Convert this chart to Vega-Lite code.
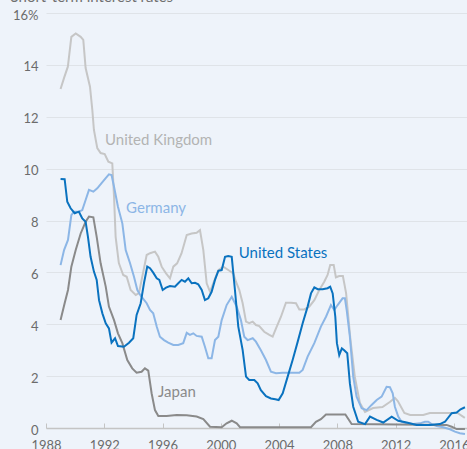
{
  "$schema": "https://vega.github.io/schema/vega-lite/v6.json",
  "width": 421,
  "height": 415,
  "autosize": "none",
  "padding": {"left": 46, "top": 13, "right": 0, "bottom": 21},
  "background": "#eef3fa",
  "title": {"text": "Short-term interest rates", "anchor": "start", "frame": "bounds", "font": "Lato", "fontSize": 15, "fontWeight": "normal", "color": "#707070", "offset": -8, "dx": -2, "baseline": "alphabetic"},
  "config": {"view": {"stroke": null}, "font": "Lato"},
  "datasets": {
    "series": [
      {"country":"UK","year":1989.0,"value":13.07},{"country":"UK","year":1989.24,"value":13.5},{"country":"UK","year":1989.5,"value":13.93},{"country":"UK","year":1989.74,"value":15.08},{"country":"UK","year":1990.04,"value":15.21},{"country":"UK","year":1990.38,"value":15.08},{"country":"UK","year":1990.56,"value":14.96},{"country":"UK","year":1990.72,"value":13.88},{"country":"UK","year":1991.02,"value":13.16},{"country":"UK","year":1991.18,"value":12.26},{"country":"UK","year":1991.29,"value":11.49},{"country":"UK","year":1991.52,"value":10.79},{"country":"UK","year":1991.75,"value":10.6},{"country":"UK","year":1992.03,"value":10.56},{"country":"UK","year":1992.28,"value":10.27},{"country":"UK","year":1992.55,"value":10.2},{"country":"UK","year":1992.67,"value":8.92},{"country":"UK","year":1992.78,"value":7.37},{"country":"UK","year":1993.0,"value":6.36},{"country":"UK","year":1993.3,"value":5.9},{"country":"UK","year":1993.54,"value":5.83},{"country":"UK","year":1993.81,"value":5.32},{"country":"UK","year":1994.16,"value":5.13},{"country":"UK","year":1994.38,"value":5.2},{"country":"UK","year":1994.73,"value":6.17},{"country":"UK","year":1994.91,"value":6.67},{"country":"UK","year":1995.14,"value":6.74},{"country":"UK","year":1995.48,"value":6.8},{"country":"UK","year":1995.71,"value":6.6},{"country":"UK","year":1995.94,"value":6.22},{"country":"UK","year":1996.24,"value":5.96},{"country":"UK","year":1996.51,"value":5.77},{"country":"UK","year":1996.74,"value":6.22},{"country":"UK","year":1997.0,"value":6.35},{"country":"UK","year":1997.3,"value":6.73},{"country":"UK","year":1997.66,"value":7.44},{"country":"UK","year":1998.0,"value":7.5},{"country":"UK","year":1998.34,"value":7.53},{"country":"UK","year":1998.57,"value":7.63},{"country":"UK","year":1998.8,"value":6.86},{"country":"UK","year":1999.03,"value":5.58},{"country":"UK","year":1999.26,"value":5.25},{"country":"UK","year":1999.48,"value":5.58},{"country":"UK","year":1999.83,"value":6.09},{"country":"UK","year":2000.17,"value":6.22},{"country":"UK","year":2000.51,"value":6.09},{"country":"UK","year":2000.86,"value":5.96},{"country":"UK","year":2001.04,"value":5.64},{"country":"UK","year":2001.27,"value":5.32},{"country":"UK","year":2001.5,"value":4.81},{"country":"UK","year":2001.73,"value":4.1},{"country":"UK","year":2001.95,"value":4.04},{"country":"UK","year":2002.19,"value":4.1},{"country":"UK","year":2002.41,"value":3.97},{"country":"UK","year":2002.64,"value":3.93},{"country":"UK","year":2002.98,"value":3.71},{"country":"UK","year":2003.33,"value":3.59},{"country":"UK","year":2003.56,"value":3.52},{"country":"UK","year":2003.79,"value":3.84},{"country":"UK","year":2004.13,"value":4.29},{"country":"UK","year":2004.47,"value":4.83},{"country":"UK","year":2004.82,"value":4.83},{"country":"UK","year":2005.16,"value":4.81},{"country":"UK","year":2005.39,"value":4.57},{"country":"UK","year":2005.73,"value":4.57},{"country":"UK","year":2006.07,"value":4.68},{"country":"UK","year":2006.42,"value":4.93},{"country":"UK","year":2006.76,"value":5.32},{"country":"UK","year":2007.1,"value":5.64},{"country":"UK","year":2007.33,"value":5.9},{"country":"UK","year":2007.51,"value":6.28},{"country":"UK","year":2007.75,"value":6.28},{"country":"UK","year":2007.9,"value":5.81},{"country":"UK","year":2008.13,"value":5.86},{"country":"UK","year":2008.38,"value":5.86},{"country":"UK","year":2008.6,"value":5.2},{"country":"UK","year":2008.9,"value":3.4},{"country":"UK","year":2009.2,"value":1.97},{"country":"UK","year":2009.55,"value":0.96},{"country":"UK","year":2009.9,"value":0.62},{"country":"UK","year":2010.45,"value":0.77},{"country":"UK","year":2011.1,"value":0.81},{"country":"UK","year":2011.6,"value":1.0},{"country":"UK","year":2011.95,"value":1.16},{"country":"UK","year":2012.15,"value":1.04},{"country":"UK","year":2012.6,"value":0.58},{"country":"UK","year":2013.0,"value":0.5},{"country":"UK","year":2013.9,"value":0.5},{"country":"UK","year":2014.35,"value":0.58},{"country":"UK","year":2015.25,"value":0.58},{"country":"UK","year":2015.9,"value":0.58},{"country":"UK","year":2016.25,"value":0.58},{"country":"UK","year":2016.75,"value":0.39},
      {"country":"DE","year":1989.0,"value":6.28},{"country":"DE","year":1989.24,"value":6.86},{"country":"DE","year":1989.51,"value":7.25},{"country":"DE","year":1989.74,"value":8.21},{"country":"DE","year":1989.92,"value":8.34},{"country":"DE","year":1990.26,"value":8.34},{"country":"DE","year":1990.49,"value":8.4},{"country":"DE","year":1990.72,"value":8.79},{"country":"DE","year":1990.95,"value":9.18},{"country":"DE","year":1991.25,"value":9.11},{"country":"DE","year":1991.52,"value":9.24},{"country":"DE","year":1991.8,"value":9.43},{"country":"DE","year":1992.1,"value":9.63},{"country":"DE","year":1992.32,"value":9.78},{"country":"DE","year":1992.5,"value":9.75},{"country":"DE","year":1992.67,"value":9.3},{"country":"DE","year":1992.94,"value":8.53},{"country":"DE","year":1993.24,"value":7.89},{"country":"DE","year":1993.47,"value":6.86},{"country":"DE","year":1993.77,"value":6.35},{"country":"DE","year":1994.04,"value":5.83},{"country":"DE","year":1994.27,"value":5.32},{"country":"DE","year":1994.5,"value":5.1},{"country":"DE","year":1994.91,"value":4.81},{"country":"DE","year":1995.14,"value":4.55},{"country":"DE","year":1995.36,"value":4.42},{"country":"DE","year":1995.6,"value":3.91},{"country":"DE","year":1995.82,"value":3.52},{"country":"DE","year":1996.1,"value":3.39},{"country":"DE","year":1996.39,"value":3.29},{"country":"DE","year":1996.74,"value":3.2},{"country":"DE","year":1997.08,"value":3.2},{"country":"DE","year":1997.42,"value":3.27},{"country":"DE","year":1997.66,"value":3.67},{"country":"DE","year":1997.88,"value":3.59},{"country":"DE","year":1998.11,"value":3.65},{"country":"DE","year":1998.34,"value":3.55},{"country":"DE","year":1998.69,"value":3.52},{"country":"DE","year":1998.91,"value":3.13},{"country":"DE","year":1999.14,"value":2.69},{"country":"DE","year":1999.37,"value":2.69},{"country":"DE","year":1999.6,"value":3.39},{"country":"DE","year":1999.83,"value":3.52},{"country":"DE","year":2000.06,"value":4.16},{"country":"DE","year":2000.4,"value":4.74},{"country":"DE","year":2000.75,"value":5.06},{"country":"DE","year":2001.09,"value":4.68},{"country":"DE","year":2001.38,"value":4.16},{"country":"DE","year":2001.61,"value":3.52},{"country":"DE","year":2001.84,"value":3.39},{"country":"DE","year":2002.19,"value":3.46},{"country":"DE","year":2002.41,"value":3.33},{"country":"DE","year":2002.75,"value":3.0},{"country":"DE","year":2003.1,"value":2.62},{"country":"DE","year":2003.44,"value":2.17},{"country":"DE","year":2003.79,"value":2.11},{"country":"DE","year":2004.25,"value":2.13},{"country":"DE","year":2004.7,"value":2.13},{"country":"DE","year":2005.39,"value":2.13},{"country":"DE","year":2005.62,"value":2.24},{"country":"DE","year":2005.96,"value":2.75},{"country":"DE","year":2006.42,"value":3.27},{"country":"DE","year":2006.87,"value":3.91},{"country":"DE","year":2007.22,"value":4.29},{"country":"DE","year":2007.56,"value":4.74},{"country":"DE","year":2007.79,"value":4.55},{"country":"DE","year":2008.02,"value":4.74},{"country":"DE","year":2008.36,"value":5.0},{"country":"DE","year":2008.52,"value":5.0},{"country":"DE","year":2008.64,"value":4.55},{"country":"DE","year":2008.86,"value":3.52},{"country":"DE","year":2009.09,"value":1.98},{"country":"DE","year":2009.32,"value":1.21},{"country":"DE","year":2009.67,"value":0.76},{"country":"DE","year":2010.01,"value":0.69},{"country":"DE","year":2010.35,"value":0.89},{"country":"DE","year":2010.7,"value":1.08},{"country":"DE","year":2011.04,"value":1.21},{"country":"DE","year":2011.38,"value":1.59},{"country":"DE","year":2011.61,"value":1.57},{"country":"DE","year":2011.8,"value":1.34},{"country":"DE","year":2011.95,"value":0.82},{"country":"DE","year":2012.18,"value":0.44},{"country":"DE","year":2012.41,"value":0.24},{"country":"DE","year":2012.76,"value":0.18},{"country":"DE","year":2013.21,"value":0.15},{"country":"DE","year":2013.67,"value":0.18},{"country":"DE","year":2014.01,"value":0.24},{"country":"DE","year":2014.24,"value":0.24},{"country":"DE","year":2014.47,"value":0.15},{"country":"DE","year":2014.82,"value":0.08},{"country":"DE","year":2015.27,"value":0.03},{"country":"DE","year":2015.73,"value":-0.05},{"country":"DE","year":2016.07,"value":-0.14},{"country":"DE","year":2016.41,"value":-0.2},{"country":"DE","year":2016.76,"value":-0.23},
      {"country":"JP","year":1989.0,"value":4.16},{"country":"JP","year":1989.28,"value":4.81},{"country":"JP","year":1989.51,"value":5.32},{"country":"JP","year":1989.74,"value":6.22},{"country":"JP","year":1990.04,"value":6.86},{"country":"JP","year":1990.38,"value":7.5},{"country":"JP","year":1990.72,"value":7.95},{"country":"JP","year":1990.95,"value":8.15},{"country":"JP","year":1991.25,"value":8.12},{"country":"JP","year":1991.48,"value":7.37},{"country":"JP","year":1991.75,"value":6.35},{"country":"JP","year":1992.1,"value":5.45},{"country":"JP","year":1992.32,"value":4.68},{"country":"JP","year":1992.67,"value":4.16},{"country":"JP","year":1992.94,"value":3.65},{"country":"JP","year":1993.24,"value":3.27},{"country":"JP","year":1993.58,"value":2.62},{"country":"JP","year":1993.92,"value":2.3},{"country":"JP","year":1994.22,"value":2.13},{"country":"JP","year":1994.56,"value":2.17},{"country":"JP","year":1994.79,"value":2.3},{"country":"JP","year":1995.02,"value":2.21},{"country":"JP","year":1995.25,"value":1.34},{"country":"JP","year":1995.48,"value":0.69},{"country":"JP","year":1995.71,"value":0.46},{"country":"JP","year":1996.28,"value":0.46},{"country":"JP","year":1996.97,"value":0.5},{"country":"JP","year":1997.66,"value":0.49},{"country":"JP","year":1998.34,"value":0.44},{"country":"JP","year":1998.8,"value":0.34},{"country":"JP","year":1999.26,"value":0.05},{"country":"JP","year":2000.06,"value":0.03},{"country":"JP","year":2000.4,"value":0.18},{"country":"JP","year":2000.75,"value":0.28},{"country":"JP","year":2001.09,"value":0.18},{"country":"JP","year":2001.32,"value":0.03},{"country":"JP","year":2006.19,"value":0.03},{"country":"JP","year":2006.53,"value":0.24},{"country":"JP","year":2006.87,"value":0.34},{"country":"JP","year":2007.22,"value":0.52},{"country":"JP","year":2008.55,"value":0.52},{"country":"JP","year":2008.98,"value":0.15},{"country":"JP","year":2015.5,"value":0.12},{"country":"JP","year":2015.85,"value":0.05},{"country":"JP","year":2016.19,"value":-0.04},{"country":"JP","year":2016.76,"value":-0.04},
      {"country":"US","year":1989.0,"value":9.6},{"country":"US","year":1989.28,"value":9.59},{"country":"US","year":1989.46,"value":8.72},{"country":"US","year":1989.69,"value":8.47},{"country":"US","year":1989.97,"value":8.28},{"country":"US","year":1990.26,"value":8.34},{"country":"US","year":1990.49,"value":8.08},{"country":"US","year":1990.72,"value":7.95},{"country":"US","year":1990.88,"value":7.37},{"country":"US","year":1991.06,"value":6.6},{"country":"US","year":1991.29,"value":6.03},{"country":"US","year":1991.48,"value":5.71},{"country":"US","year":1991.64,"value":4.93},{"country":"US","year":1991.87,"value":4.42},{"country":"US","year":1992.1,"value":4.04},{"country":"US","year":1992.32,"value":3.84},{"country":"US","year":1992.5,"value":3.29},{"country":"US","year":1992.74,"value":3.46},{"country":"US","year":1992.94,"value":3.16},{"country":"US","year":1993.35,"value":3.13},{"country":"US","year":1993.7,"value":3.29},{"country":"US","year":1993.99,"value":3.46},{"country":"US","year":1994.22,"value":4.36},{"country":"US","year":1994.5,"value":4.81},{"country":"US","year":1994.73,"value":5.6},{"country":"US","year":1994.95,"value":6.22},{"country":"US","year":1995.14,"value":6.16},{"country":"US","year":1995.36,"value":5.99},{"country":"US","year":1995.6,"value":5.77},{"country":"US","year":1995.78,"value":5.71},{"country":"US","year":1996.01,"value":5.32},{"country":"US","year":1996.24,"value":5.41},{"country":"US","year":1996.51,"value":5.47},{"country":"US","year":1996.85,"value":5.45},{"country":"US","year":1997.08,"value":5.58},{"country":"US","year":1997.31,"value":5.71},{"country":"US","year":1997.54,"value":5.64},{"country":"US","year":1997.77,"value":5.77},{"country":"US","year":1998.0,"value":5.58},{"country":"US","year":1998.23,"value":5.6},{"country":"US","year":1998.45,"value":5.54},{"country":"US","year":1998.69,"value":5.32},{"country":"US","year":1998.91,"value":4.93},{"country":"US","year":1999.14,"value":5.0},{"country":"US","year":1999.37,"value":5.25},{"country":"US","year":1999.6,"value":5.71},{"country":"US","year":1999.83,"value":6.06},{"country":"US","year":2000.06,"value":6.09},{"country":"US","year":2000.29,"value":6.6},{"country":"US","year":2000.51,"value":6.63},{"country":"US","year":2000.75,"value":6.6},{"country":"US","year":2000.97,"value":5.32},{"country":"US","year":2001.2,"value":3.91},{"country":"US","year":2001.5,"value":3.0},{"country":"US","year":2001.73,"value":1.98},{"country":"US","year":2001.95,"value":1.85},{"country":"US","year":2002.3,"value":1.85},{"country":"US","year":2002.53,"value":1.72},{"country":"US","year":2002.75,"value":1.46},{"country":"US","year":2003.1,"value":1.23},{"country":"US","year":2003.44,"value":1.14},{"country":"US","year":2003.74,"value":1.11},{"country":"US","year":2003.97,"value":1.08},{"country":"US","year":2004.25,"value":1.34},{"country":"US","year":2004.59,"value":1.98},{"country":"US","year":2004.93,"value":2.62},{"country":"US","year":2005.28,"value":3.33},{"country":"US","year":2005.62,"value":4.04},{"country":"US","year":2005.96,"value":4.68},{"country":"US","year":2006.19,"value":5.19},{"country":"US","year":2006.42,"value":5.42},{"country":"US","year":2006.65,"value":5.35},{"country":"US","year":2006.99,"value":5.35},{"country":"US","year":2007.33,"value":5.39},{"country":"US","year":2007.51,"value":5.45},{"country":"US","year":2007.68,"value":5.19},{"country":"US","year":2007.86,"value":4.29},{"country":"US","year":2007.97,"value":3.27},{"country":"US","year":2008.13,"value":2.81},{"country":"US","year":2008.31,"value":3.07},{"country":"US","year":2008.47,"value":3.0},{"country":"US","year":2008.68,"value":2.88},{"country":"US","year":2008.86,"value":1.72},{"country":"US","year":2009.09,"value":0.82},{"country":"US","year":2009.43,"value":0.24},{"country":"US","year":2009.9,"value":0.15},{"country":"US","year":2010.24,"value":0.44},{"country":"US","year":2010.7,"value":0.31},{"country":"US","year":2011.15,"value":0.21},{"country":"US","year":2011.73,"value":0.44},{"country":"US","year":2012.18,"value":0.28},{"country":"US","year":2012.76,"value":0.21},{"country":"US","year":2013.44,"value":0.12},{"country":"US","year":2014.35,"value":0.12},{"country":"US","year":2015.04,"value":0.15},{"country":"US","year":2015.39,"value":0.24},{"country":"US","year":2015.85,"value":0.57},{"country":"US","year":2016.19,"value":0.6},{"country":"US","year":2016.46,"value":0.72},{"country":"US","year":2016.76,"value":0.8}
    ],
    "labels": [
      {"country":"UK","label":"United Kingdom","year":1992.05,"value":11.1},
      {"country":"DE","label":"Germany","year":1993.5,"value":8.48},
      {"country":"US","label":"United States","year":2001.23,"value":6.76},
      {"country":"JP","label":"Japan","year":1995.69,"value":1.4}
    ]
  },
  "data": {"name": "series"},
  "encoding": {
    "x": {"field": "year", "type": "quantitative",
      "scale": {"domain": [1988, 2016.9], "nice": false, "zero": false},
      "axis": {"values": [1988,1992,1996,2000,2004,2008,2012,2016], "format": "d", "grid": false, "title": null,
        "domainColor": "#c4c4c4", "domainWidth": 1.5, "tickColor": "#c4c4c4", "tickSize": -5, "tickWidth": 1,
        "labelPadding": 16, "labelFontSize": 13, "labelColor": "#6b6b6b", "labelFont": "Lato", "labelFlush": false}},
    "y": {"field": "value", "type": "quantitative",
      "scale": {"domain": [0, 16], "nice": false},
      "axis": {"values": [0,2,4,6,8,10,12,14,16], "title": null, "domain": false, "ticks": false, "grid": true,
        "gridColor": "#dfe3e8", "gridWidth": 1, "labelPadding": 8, "labelOffset": 2, "labelFontSize": 13,
        "labelColor": "#6b6b6b", "labelFont": "Lato",
        "labelExpr": "datum.value == 16 ? '16%' : datum.label"}}
  },
  "layer": [
    {"transform": [{"filter": "datum.country == 'UK'"}], "mark": {"type": "line", "color": "#c6c6c6", "strokeWidth": 2}},
    {"transform": [{"filter": "datum.country == 'DE'"}], "mark": {"type": "line", "color": "#8cb6e6", "strokeWidth": 2}},
    {"transform": [{"filter": "datum.country == 'JP'"}], "mark": {"type": "line", "color": "#8a8a8a", "strokeWidth": 2}},
    {"transform": [{"filter": "datum.country == 'US'"}], "mark": {"type": "line", "color": "#0a72bf", "strokeWidth": 2}},
    {"data": {"name": "labels"},
     "mark": {"type": "text", "align": "left", "baseline": "middle", "font": "Lato", "fontSize": 15},
     "encoding": {
       "text": {"field": "label"},
       "color": {"field": "country", "type": "nominal", "legend": null,
         "scale": {"domain": ["UK", "DE", "US", "JP"], "range": ["#b3b3b3", "#8cb6e6", "#0a72bf", "#8a8a8a"]}}
     }}
  ]
}
